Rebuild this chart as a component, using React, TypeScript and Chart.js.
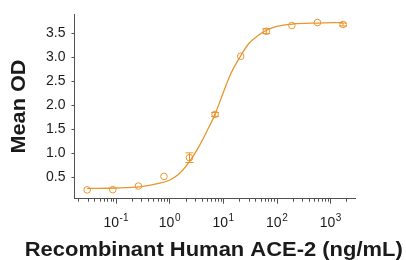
import React, { useEffect, useRef } from 'react';
import { Chart, registerables } from 'chart.js';

Chart.register(...registerables);

// ---- data ----
const concentrations = [0.0293, 0.088, 0.264, 0.791, 2.37, 7.12, 21.4, 64.1, 192, 577, 1730];
const meanOD = [0.24, 0.245, 0.32, 0.52, 0.91, 1.81, 3.02, 3.54, 3.66, 3.72, 3.68];
const errorOD = [0.005, 0.005, 0.01, 0.01, 0.1, 0.04, 0.02, 0.05, 0.01, 0.015, 0.03];

// fitted curve
const fitX = [0.0293, 0.1, 0.3, 0.6, 1.0, 1.5, 2.37, 3.5, 5, 7.12, 10, 14, 21.4, 30, 45, 64.1, 100, 200, 577, 1730];
const fitY = [0.27, 0.28, 0.31, 0.37, 0.44, 0.57, 0.83, 1.13, 1.46, 1.82, 2.25, 2.66, 3.03, 3.28, 3.45, 3.56, 3.64, 3.69, 3.71, 3.72];

const yTicks = [0.5, 1.0, 1.5, 2.0, 2.5, 3.0, 3.5];
const xMajorTicks = [0.1, 1, 10, 100, 1000];
const xExponents = ['-1', '0', '1', '2', '3'];

const X_TITLE = 'Recombinant Human ACE-2 (ng/mL)';
const Y_TITLE = 'Mean OD';

const X_MIN = 0.017;
const X_MAX = 2890;
const Y_MIN = 0.057;
const Y_MAX = 3.89;

const ORANGE = '#E8962D';
const AXIS = '#505050';
const TEXT = '#1a1a1a';
const FONT = "'Liberation Sans', Arial, sans-serif";

const errorBarPlugin = {
  id: 'errorBars',
  afterDatasetsDraw(chart: any) {
    const xs = chart.scales.x;
    const ys = chart.scales.y;
    const ctx = chart.ctx;
    ctx.save();
    ctx.strokeStyle = ORANGE;
    ctx.lineWidth = 1;
    concentrations.forEach((c, i) => {
      const e = errorOD[i];
      const px = xs.getPixelForValue(c);
      const yHi = ys.getPixelForValue(meanOD[i] + e);
      const yLo = ys.getPixelForValue(meanOD[i] - e);
      if (yLo - yHi < 2) return;
      ctx.beginPath();
      ctx.moveTo(px, yHi);
      ctx.lineTo(px, yLo);
      ctx.moveTo(px - 4, yHi);
      ctx.lineTo(px + 4, yHi);
      ctx.moveTo(px - 4, yLo);
      ctx.lineTo(px + 4, yLo);
      ctx.stroke();
    });
    ctx.restore();
  },
};

const axisDecor = {
  id: 'axisDecor',
  afterDraw(chart: any) {
    const xs = chart.scales.x;
    const ctx = chart.ctx;
    const area = chart.chartArea;
    const y0 = xs.top;
    ctx.save();
    // x tick marks (major + minor)
    ctx.strokeStyle = AXIS;
    ctx.lineWidth = 1;
    ctx.beginPath();
    for (let e = -2; e <= 4; e++) {
      for (let m = 1; m <= 9; m++) {
        const v = m * Math.pow(10, e);
        if (v < xs.min || v > xs.max) continue;
        const px = Math.round(xs.getPixelForValue(v)) + 0.5;
        const len = m === 1 ? 5 : 3;
        ctx.moveTo(px, y0);
        ctx.lineTo(px, y0 + len);
      }
    }
    ctx.stroke();
    // x tick labels with superscript exponents
    ctx.fillStyle = TEXT;
    ctx.textBaseline = 'alphabetic';
    ctx.textAlign = 'left';
    xMajorTicks.forEach((v, i) => {
      const px = xs.getPixelForValue(v);
      ctx.font = `14px ${FONT}`;
      const wBase = ctx.measureText('10').width;
      ctx.font = `10px ${FONT}`;
      const wExp = ctx.measureText(xExponents[i]).width;
      const start = px - (wBase + wExp) / 2;
      const base = y0 + 28;
      ctx.font = `14px ${FONT}`;
      ctx.fillText('10', start, base);
      ctx.font = `10px ${FONT}`;
      ctx.fillText(xExponents[i], start + wBase + 0.5, base - 6);
    });
    // axis titles
    ctx.font = `bold 20px ${FONT}`;
    ctx.textAlign = 'center';
    ctx.textBaseline = 'alphabetic';
    const cx = (area.left + area.right) / 2 - 1;
    const wx = ctx.measureText(X_TITLE).width;
    ctx.save();
    ctx.translate(cx, 255.5);
    ctx.scale(378 / wx, 1);
    ctx.fillText(X_TITLE, 0, 0);
    ctx.restore();

    const wy = ctx.measureText(Y_TITLE).width;
    ctx.save();
    ctx.translate(24.5, (area.top + area.bottom) / 2);
    ctx.rotate(-Math.PI / 2);
    ctx.scale(94 / wy, 1);
    ctx.fillText(Y_TITLE, 0, 0);
    ctx.restore();
    ctx.restore();
  },
};

export default function App() {
  const ref = useRef<HTMLCanvasElement | null>(null);

  useEffect(() => {
    if (!ref.current) return;
    const chart = new Chart(ref.current, {
      type: 'line',
      data: {
        datasets: [
          {
            label: 'fit',
            data: fitX.map((x, i) => ({ x, y: fitY[i] })),
            borderColor: ORANGE,
            borderWidth: 1.3,
            pointRadius: 0,
            fill: false,
            cubicInterpolationMode: 'monotone',
          },
          {
            label: 'Mean OD',
            data: concentrations.map((x, i) => ({ x, y: meanOD[i] })),
            showLine: false,
            borderColor: ORANGE,
            backgroundColor: 'rgba(255,255,255,0)',
            pointStyle: 'circle',
            pointRadius: 3.3,
            pointBorderWidth: 1,
          },
        ],
      } as any,
      options: {
        responsive: false,
        animation: false,
        layout: { padding: { left: 0, right: 51, top: 2, bottom: 0 } },
        plugins: {
          legend: { display: false },
          tooltip: { enabled: false },
        },
        scales: {
          x: {
            type: 'logarithmic',
            position: 'bottom',
            min: X_MIN,
            max: X_MAX,
            grid: { display: false, drawTicks: false },
            border: { display: true, color: AXIS, width: 1 },
            ticks: { display: false },
            afterFit: (scale: any) => {
              scale.height = 61.3;
            },
          },
          y: {
            type: 'linear',
            min: Y_MIN,
            max: Y_MAX,
            afterBuildTicks: (axis: any) => {
              axis.ticks = yTicks.map((v) => ({ value: v }));
            },
            grid: { drawOnChartArea: false, drawTicks: true, tickLength: 3, color: AXIS },
            border: { display: true, color: AXIS, width: 1 },
            ticks: {
              color: TEXT,
              font: { family: FONT, size: 14 },
              padding: 6,
              callback: (v: any) => Number(v).toFixed(1),
            },
            afterFit: (scale: any) => {
              scale.width = 74.5;
            },
          },
        },
      } as any,
      plugins: [errorBarPlugin, axisDecor],
    });
    return () => chart.destroy();
  }, []);

  return (
    <div style={{ position: 'fixed', left: 0, top: 0, width: 406, height: 260, background: '#fff' }}>
      <canvas ref={ref} width={406} height={260} style={{ width: 406, height: 260, display: 'block' }} />
    </div>
  );
}
